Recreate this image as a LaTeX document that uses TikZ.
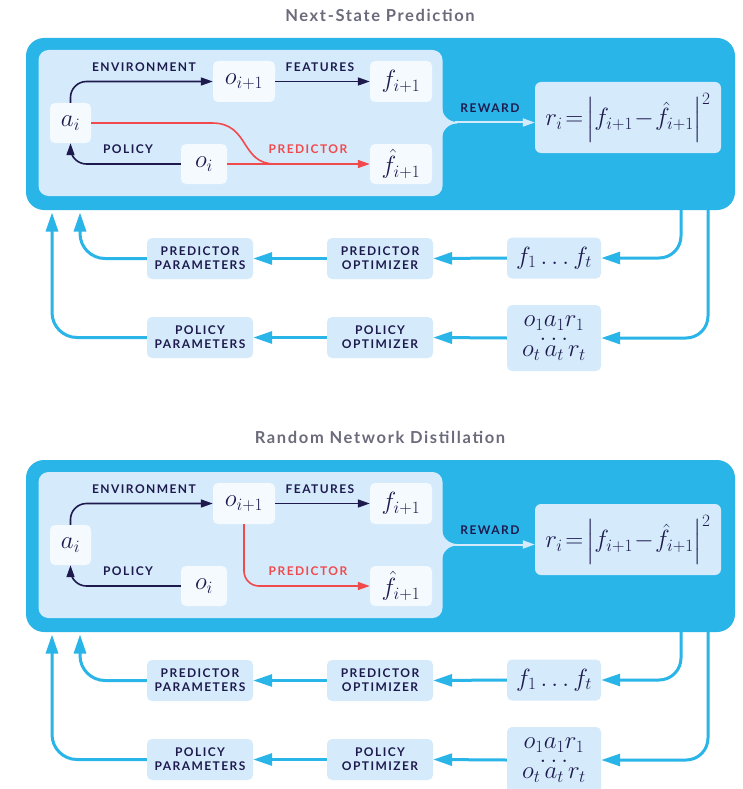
\documentclass[tikz,border=0pt]{standalone}
\usepackage{fontspec}
\usepackage{amsmath}
\usetikzlibrary{arrows.meta}
\newfontfamily\labfont[LetterSpace=12]{Lato}
\newfontfamily\titfont[LetterSpace=10]{Lato}
\definecolor{outerc}{RGB}{41,181,232}
\definecolor{panelc}{RGB}{213,235,252}
\definecolor{nodec}{RGB}{245,250,254}
\definecolor{navy}{RGB}{30,26,78}
\definecolor{redc}{RGB}{240,74,76}
\definecolor{titc}{RGB}{108,107,124}
\tikzset{
  lab/.style={font=\labfont\bfseries\fontsize{12}{14.3}\selectfont, text=navy, inner sep=0pt, align=center},
  titl/.style={font=\titfont\bfseries\fontsize{16.5}{19}\selectfont, text=titc, inner sep=0pt},
  wbox/.style={fill=nodec, rounded corners=5pt, inner sep=0pt, text=navy, font=\fontsize{23.5}{26}\selectfont},
  bbox/.style={fill=panelc, rounded corners=5pt, inner sep=0pt, text=navy, align=center},
  mathbox/.style={bbox, font=\fontsize{24}{26}\selectfont},
  dk/.style={draw=navy, line width=1.6pt, -{Triangle[length=12pt,width=8pt]}},
  rd/.style={draw=redc, line width=1.6pt, -{Triangle[length=12pt,width=8pt]}},
  rdl/.style={draw=redc, line width=1.6pt},
  bl/.style={draw=outerc, line width=3pt, -{Triangle[length=19pt,width=12pt]}},
  rw/.style={draw=panelc, line width=2pt, -{Triangle[length=12pt,width=8pt]}},
}
\newcommand\mypanel[4]{%
\begin{scope}[shift={(0,#2)}]
  \node[titl] (#1title) at (380,15) {#3};
  \node[fill=outerc, rounded corners=18pt, minimum width=709pt, minimum height=172pt, inner sep=0pt] (#1outer) at (380.5,124) {};
  \node[fill=panelc, rounded corners=10pt, minimum width=404pt, minimum height=146pt, inner sep=0pt] (#1panel) at (240.5,123) {};
  % reward fillets
  \fill[panelc] (441,105) -- (442,107) arc[start angle=180, end angle=90, radius=15] -- (457,123.5) arc[start angle=270, end angle=180, radius=15] -- (441,140) -- cycle;
  \coordinate (#1rs) at (455,122.5);
  \node[bbox, rounded corners=6pt, minimum width=186pt, minimum height=71pt, font=\fontsize{24}{26}\selectfont] (#1rew) at (628,117.5) {$r_i\!=\!\left|f_{i+1}\!-\!\hat{f}_{i+1}\right|^2$};
  \draw[rw] (#1rs) -- (#1rs -| #1rew.west);
  \node[lab] (#1rl) at (490,108) {REWARD};
  % inner nodes
  \node[wbox, minimum width=41pt, minimum height=40pt] (#1a) at (70.5,123) {$a_i$};
  \node[wbox, minimum width=62pt, minimum height=41pt] (#1o1) at (244,81.5) {$o_{i+1}$};
  \node[wbox, minimum width=62pt, minimum height=41pt] (#1f) at (401,81.5) {$f_{i+1}$};
  \node[wbox, minimum width=46pt, minimum height=40pt] (#1oi) at (204,164) {$o_i$};
  \node[wbox, minimum width=62pt, minimum height=40pt] (#1fh) at (401,164) {$\hat{f}_{i+1}$};
  \draw[dk, rounded corners=16pt] (#1a.north) |- (#1o1.west);
  \draw[dk] (#1o1.east) -- (#1f.west);
  \draw[dk, rounded corners=16pt] (#1oi.west) -| (#1a.south);
  \ifnum#4=1
    \draw[rd] (#1oi.east) -- (#1fh.west);
    \draw[rdl] (#1a.east) -- (212,123) .. controls (250,123) and (240,164) .. (275,164);
  \else
    \draw[rd, rounded corners=15pt] (#1o1.south) |- (#1fh.west);
  \fi
  \node[lab] (#1le) at (144,67) {ENVIRONMENT};
  \node[lab] (#1lf) at (320,67) {FEATURES};
  \node[lab] (#1lp) at (128,149) {POLICY};
  \node[lab, text=redc] (#1lr) at (308,149) {PREDICTOR};
  % lower section
  \node[bbox, minimum width=106pt, minimum height=41pt, lab] (#1pp) at (200,258.5) {PREDICTOR\\PARAMETERS};
  \node[bbox, minimum width=106pt, minimum height=41pt, lab] (#1po) at (380,258.5) {PREDICTOR\\OPTIMIZER};
  \node[mathbox, minimum width=94pt, minimum height=41pt] (#1ff) at (554,258) {$f_1\ldots f_t$};
  \node[bbox, minimum width=106pt, minimum height=41pt, lab] (#1qp) at (200,337.5) {POLICY\\PARAMETERS};
  \node[bbox, minimum width=106pt, minimum height=41pt, lab] (#1qo) at (380,337.5) {POLICY\\OPTIMIZER};
  \node[bbox, minimum width=94pt, minimum height=66pt, font=\fontsize{23}{11}\selectfont] (#1oo) at (554,338) {$o_1a_1r_1$\\[3pt]$\ldots$\\[5pt]$o_t\,a_t\,r_t$};
  \coordinate (#1c1) at (681,205);
  \coordinate (#1c2) at (708,205);
  \coordinate (#1t1) at (80,212.5);
  \coordinate (#1t2) at (52,212.5);
  \draw[bl, rounded corners=22pt] (#1c1) |- (#1ff.east);
  \draw[bl, rounded corners=22pt] (#1c2) |- (#1oo.east);
  \draw[bl] (#1ff.west) -- (#1po.east);
  \draw[bl] (#1po.west) -- (#1pp.east);
  \draw[bl, rounded corners=25pt] (#1pp.west) -| (#1t1);
  \draw[bl] (#1oo.west) -- (#1qo.east);
  \draw[bl] (#1qo.west) -- (#1qp.east);
  \draw[bl, rounded corners=25pt] (#1qp.west) -| (#1t2);
\end{scope}}
\begin{document}
\begin{tikzpicture}[x=1pt,y=-1pt]
  \useasboundingbox[fill=white] (0,0) rectangle (743,789);
  \mypanel{A}{0}{Next-State Prediction}{1}
  \mypanel{B}{422}{Random Network Distillation}{2}
\end{tikzpicture}
\end{document}
